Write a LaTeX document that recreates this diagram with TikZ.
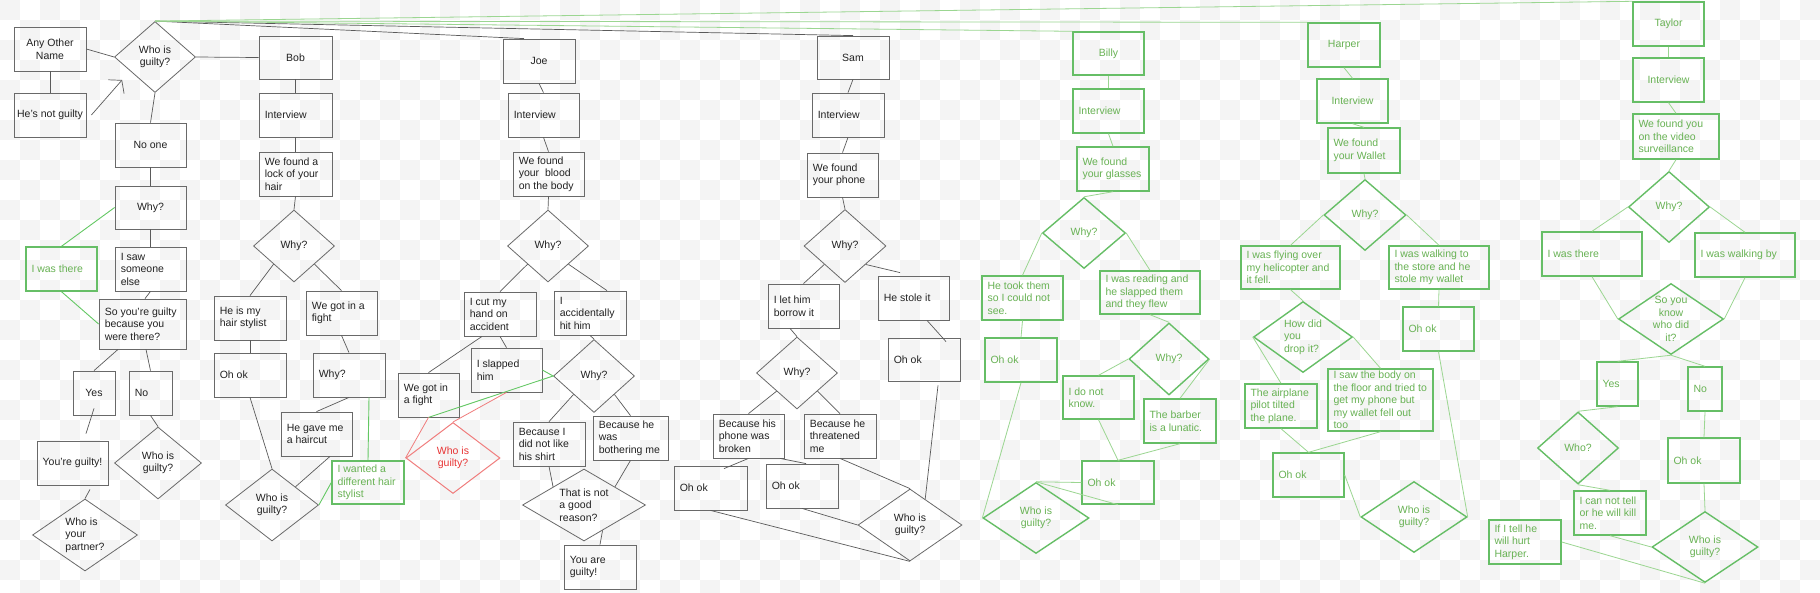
\documentclass[tikz,border=0pt]{standalone}
\usepackage{fontspec}
\setmainfont{Liberation Sans}
\usetikzlibrary{shapes.geometric,arrows.meta,calc}
\definecolor{chk}{RGB}{244,244,244}
\definecolor{gb}{RGB}{105,105,105}
\definecolor{gl}{RGB}{90,90,90}
\definecolor{tx}{RGB}{34,34,34}
\definecolor{grb}{RGB}{102,190,102}
\definecolor{grt}{RGB}{104,178,84}
\definecolor{grl}{RGB}{155,214,145}
\definecolor{grlb}{RGB}{100,200,100}
\definecolor{rb}{RGB}{240,125,125}
\definecolor{rt}{RGB}{232,52,52}
\tikzset{
 gbox/.style={draw=gb, line width=0.8pt, rectangle, inner sep=0pt},
 grbox/.style={draw=grb, line width=1.4pt, rectangle, inner sep=0pt},
 gdia/.style={draw=gb, line width=0.8pt, diamond, inner sep=0pt},
 grdia/.style={draw=grb, line width=1.4pt, diamond, inner sep=0pt},
 rdia/.style={draw=rb, line width=1pt, diamond, inner sep=0pt},
 gtxt/.style={text=tx, inner sep=0pt, font=\fontsize{10.5}{12.5}\selectfont},
 grtxt/.style={gtxt, text=grt},
 rtxt/.style={gtxt, text=rt},
 gline/.style={draw=gl, line width=0.7pt},
 grline/.style={draw=grl, line width=0.8pt},
 grlineb/.style={draw=grlb, line width=0.9pt},
 rline/.style={draw=rb, line width=0.8pt},
}
% left-aligned text box
\newcommand\lbx[7][g]{%
  \node[#1box, minimum width={(#5-#3)*1pt}, minimum height={(#6-#4)*1pt}] (#2) at ({(#3+#5)/2},{(#4+#6)/2}) {};
  \node[#1txt, anchor=west, align=left] (#2t) at ([xshift=6pt]#2.west) {#7};}
% centred text box
\newcommand\cbx[7][g]{%
  \node[#1box, minimum width={(#5-#3)*1pt}, minimum height={(#6-#4)*1pt}] (#2) at ({(#3+#5)/2},{(#4+#6)/2}) {};
  \node[#1txt, align=center] (#2t) at (#2.center) {#7};}
% diamond
\newcommand\dia[8][g]{%
  \node[#1dia, minimum width={#5*1pt}, minimum height={#6*1pt}] (#2) at (#3,#4) {};
  \node[#1txt, align=#7] (#2t) at (#2.center) {#8};}
\begin{document}
\begin{tikzpicture}[x=1pt,y=-1pt]
\useasboundingbox (0,0) rectangle (1820,592);
\fill[white] (0,0) rectangle (1820,592);
\foreach \j in {0,...,29}{
  \pgfmathtruncatemacro\off{mod(\j,2)*20}
  \foreach \i in {0,40,...,1800}{
    \fill[chk] (\i+\off,\j*20) rectangle ++(20,20);
  }}

% ---------- left
\cbx{AnyOther}{14}{27}{86}{71}{Any Other\\Name}
\cbx{HesNot}{14}{93}{86}{137}{He’s not guilty}
\dia{TopD}{155}{57}{81}{71}{center}{Who is\\guilty?}
\cbx{NoOne}{115}{123}{186}{167}{No one}
\cbx{WhyA}{115}{186}{186}{229}{Why?}
\lbx[gr]{ThereA}{26}{247}{97}{291}{I was there}
\lbx{SawA}{115}{247}{186}{291}{I saw\\someone\\else}
\lbx{SoYou}{99}{299}{186}{349}{So you’re guilty\\because you\\were there?}
\cbx{YesA}{73}{371}{115}{415}{Yes}
\lbx{NoA}{129}{371}{172}{415}{No}
\cbx{GuiltyA}{37}{441}{108}{485}{You’re guilty!}
\dia{WhoNoA}{158}{463}{87}{72}{center}{Who is\\guilty?}
\dia{PartnerA}{85}{535}{105}{72}{left}{Who is\\your\\partner?}

% ---------- Bob
\cbx{Bob}{259}{36}{332}{79}{Bob}
\lbx{BobInt}{259}{93}{332}{137}{Interview}
\lbx{BobLock}{259}{152}{332}{196}{We found a\\lock of your\\hair}
\dia{BobWhy}{294}{246}{81}{72}{center}{Why?}
\lbx{BobStylist}{214}{296}{286}{340}{He is my\\hair stylist}
\lbx{BobOk}{214}{353}{286}{397}{Oh ok}
\lbx{BobFight}{306}{291}{377}{335}{We got in a\\fight}
\lbx{BobWhy2}{313}{353}{385}{397}{Why?}
\lbx{BobGave}{281}{412}{352}{456}{He gave me\\a haircut}
\lbx[gr]{BobWanted}{332}{461}{404}{504}{I wanted a\\different hair\\stylist}
\dia{BobWho}{272}{505}{93}{72}{center}{Who is\\guilty?}

% ---------- Joe
\cbx{Joe}{503}{39}{575}{83}{Joe}
\lbx{JoeInt}{508}{93}{579}{137}{Interview}
\lbx{JoeBlood}{513}{152}{584}{196}{We found\\your\ \ blood\\on the body}
\dia{JoeWhy}{548}{246}{81}{72}{center}{Why?}
\lbx{JoeCut}{464}{292}{536}{336}{I cut my\\hand on\\accident}
\lbx{JoeAcc}{554}{291}{626}{335}{I\\accidentally\\hit him}
\lbx{JoeSlap}{471}{348}{542}{392}{I slapped\\him}
\lbx{JoeFight}{398}{373}{459}{417}{We got in\\a fight}
\dia{JoeWhy2}{594}{376}{81}{73}{center}{Why?}
\dia[r]{JoeRed}{453}{458}{94}{71}{center}{Who is\\guilty?}
\lbx{JoeShirt}{513}{422}{585}{466}{Because I\\did not like\\his shirt}
\lbx{JoeBother}{593}{416}{668}{460}{Because he\\was\\bothering me}
\dia{JoeNot}{584}{505}{123}{72}{left}{That is not\\a good\\reason?}
\lbx{JoeGuilty}{564}{545}{636}{589}{You are\\guilty!}

% ---------- Sam
\cbx{Sam}{817}{36}{889}{79}{Sam}
\lbx{SamInt}{812}{93}{884}{137}{Interview}
\lbx{SamPhone}{807}{153}{878}{197}{We found\\your phone}
\dia{SamWhy}{845}{246}{82}{73}{center}{Why?}
\lbx{SamLet}{768}{284}{839}{328}{I let him\\borrow it}
\lbx{SamStole}{878}{276}{949}{320}{He stole it}
\lbx{SamOk}{888}{338}{960}{381}{Oh ok}
\dia{SamWhy2}{797}{373}{81}{72}{center}{Why?}
\lbx{SamBroken}{713}{414}{784}{458}{Because his\\phone was\\broken}
\lbx{SamThreat}{804}{414}{876}{458}{Because he\\threatened\\me}
\lbx{SamOkA}{674}{466}{747}{510}{Oh ok}
\lbx{SamOkB}{766}{464}{838}{508}{Oh ok}
\dia{SamWho}{910}{525}{104}{72}{center}{Who is\\guilty?}

% ---------- Billy
\cbx[gr]{Billy}{1073}{32}{1144}{75}{Billy}
\lbx[gr]{BillyInt}{1073}{89}{1144}{133}{Interview}
\lbx[gr]{BillyGlass}{1077}{147}{1149}{191}{We found\\your glasses}
\dia[gr]{BillyWhy}{1084}{233}{83}{71}{center}{Why?}
\lbx[gr]{BillyTook}{982}{276}{1063}{320}{He took them\\so I could not\\see.}
\lbx[gr]{BillyRead}{1100}{271}{1200}{314}{I was reading and\\he slapped them\\and they flew}
\lbx[gr]{BillyOk}{985}{338}{1057}{382}{Oh ok}
\dia[gr]{BillyWhy2}{1169}{359}{80}{72}{center}{Why?}
\lbx[gr]{BillyKnow}{1063}{376}{1134}{419}{I do not\\know.}
\lbx[gr]{BillyBarber}{1144}{399}{1216}{443}{The barber\\is a lunatic.}
\lbx[gr]{BillyOk2}{1082}{461}{1154}{504}{Oh ok}
\dia[gr]{BillyWho}{1036}{518}{106}{71}{center}{Who is\\guilty?}

% ---------- Harper
\cbx[gr]{Harper}{1308}{23}{1380}{67}{Harper}
\cbx[gr]{HarpInt}{1317}{79}{1388}{123}{Interview}
\lbx[gr]{HarpWallet}{1328}{128}{1400}{173}{We found\\your Wallet}
\dia[gr]{HarpWhy}{1365}{215}{82}{71}{center}{Why?}
\lbx[gr]{HarpFly}{1241}{246}{1340}{289}{I was flying over\\my helicopter and\\it fell.}
\lbx[gr]{HarpWalk}{1389}{246}{1489}{289}{I was walking to\\the store and he\\stole my wallet}
\dia[gr]{HarpHow}{1303}{337}{99}{71}{left}{How did\\you\\drop it?}
\lbx[gr]{HarpOkR}{1403}{307}{1474}{351}{Oh ok}
\lbx[gr]{HarpPlane}{1245}{384}{1317}{428}{The airplane\\pilot tilted\\the plane.}
\lbx[gr]{HarpBody}{1328}{369}{1433}{431}{I saw the body on\\the floor and tried to\\get my phone but\\my wallet fell out\\too}
\lbx[gr]{HarpOkL}{1273}{453}{1344}{497}{Oh ok}
\dia[gr]{HarpWho}{1414}{517}{106}{71}{center}{Who is\\guilty?}

% ---------- Taylor
\cbx[gr]{Taylor}{1633}{2}{1704}{46}{Taylor}
\cbx[gr]{TayInt}{1633}{58}{1704}{102}{Interview}
\lbx[gr]{TaySurv}{1633}{114}{1719}{159}{We found you\\on the video\\surveillance}
\dia[gr]{TayWhy}{1669}{207}{81}{71}{center}{Why?}
\lbx[gr]{TayThere}{1542}{232}{1642}{276}{I was there}
\lbx[gr]{TayWalk}{1695}{233}{1795}{277}{I was walking by}
\dia[gr]{TayKnow}{1671}{319}{105}{71}{center}{So you\\know\\who did\\it?}
\lbx[gr]{TayYes}{1597}{362}{1638}{406}{Yes}
\lbx[gr]{TayNo}{1688}{367}{1722}{411}{No}
\dia[gr]{TayWhoQ}{1578}{448}{81}{72}{center}{Who?}
\lbx[gr]{TayOk}{1668}{438}{1740}{483}{Oh ok}
\lbx[gr]{TayCant}{1574}{491}{1646}{535}{I can not tell\\or he will kill\\me.}
\lbx[gr]{TayIf}{1489}{520}{1561}{564}{If I tell he\\will hurt\\Harper.}
\dia[gr]{TayWho}{1705}{547}{106}{71}{center}{Who is\\guilty?}

% ================= connectors
% left
\draw[gline] (AnyOther.east) -- (TopD.west);
\draw[gline] (AnyOther.south) -- (HesNot.north);
\coordinate (arrTip) at ([shift={(8,23)}]TopD.west);
\draw[gline, -{Straight Barb[length=8.5pt,width=21pt]}] ([xshift=5pt]HesNot.east) -- (arrTip);
\draw[gline] (TopD.east) -- (Bob.west);
\draw[gline] (TopD.south) -- (NoOne.north);
\draw[gline] (NoOne.south) -- (WhyA.north);
\draw[gline] (WhyA.south) -- (SawA.north);
\draw[grlineb] (WhyA.west) -- (ThereA.north);
\draw[grlineb] (ThereA.south) -- (SoYou.west);
\draw[gline] (SawA.south) -- ([xshift=2.5pt]SoYou.north);
\draw[gline] ([xshift=-24.5pt]SoYou.south) -- (YesA.north);
\draw[gline] ([xshift=3.5pt]SoYou.south) -- (NoA.north);
\draw[gline] ([shift={(0,-7)}]YesA.south) -- ([shift={(13.5,-7)}]GuiltyA.north);
\draw[gline] (NoA.south) -- (WhoNoA.north);
\draw[gline] ([shift={(17.5,4)}]GuiltyA.south) -- (PartnerA.north);
% top fan
\draw[gline] (TopD.north) -- ([xshift=-15pt]Joe.north);
\draw[gline] (TopD.north) -- (Sam.north);
\draw[grline] (TopD.north) -- (Billy.north west);
\draw[grline] (TopD.north) -- (Harper.north west);
\draw[grline] (TopD.north) -- (Taylor.north west);
% Bob
\draw[gline] (Bob.south) -- (BobInt.north);
\draw[gline] (BobInt.south) -- (BobLock.north);
\draw[gline] (BobLock.south) -- (BobWhy.north);
\draw[gline] (BobWhy.south west) -- (BobStylist.north);
\draw[gline] (BobWhy.south east) -- (BobFight.north);
\draw[gline] (BobStylist.south) -- (BobOk.north);
\draw[gline] (BobOk.south) -- (BobWho.north);
\draw[gline] (BobFight.south) -- (BobWhy2.north);
\draw[gline] (BobWhy2.south) -- (BobGave.north);
\draw[gline] ([xshift=13.5pt]BobGave.south) -- (BobWho.north east);
\draw[grlineb] ([xshift=20pt]BobWhy2.south) -- (BobWanted.north);
\draw[grlineb] (BobWanted.west) -- (BobWho.east);
% Joe
\draw[gline] (Joe.south) -- (JoeInt.north);
\draw[gline] (JoeInt.south) -- (JoeBlood.north);
\draw[gline] (JoeBlood.south) -- (JoeWhy.north);
\draw[gline] (JoeWhy.south west) -- (JoeCut.north);
\draw[gline] (JoeWhy.south east) -- ([xshift=17pt]JoeAcc.north);
\draw[gline] (JoeAcc.south) -- (JoeWhy2.north);
\draw[gline] ([xshift=-18pt]JoeCut.south) -- (JoeFight.north);
\draw[gline] (JoeCut.south) -- (JoeSlap.north);
\draw[grlineb] (JoeSlap.east) -- (JoeWhy2.west) -- (JoeFight.south);
\draw[rline] (JoeRed.west) -- (JoeFight.south);
\draw[rline] (JoeRed.north) -- (JoeSlap.south);
\draw[gline] (JoeWhy2.south west) -- (JoeShirt.north);
\draw[gline] (JoeWhy2.south east) -- (JoeBother.north);
\draw[gline] (JoeShirt.south) -- (JoeNot.north west);
\draw[gline] (JoeBother.south) -- (JoeNot.north east);
\draw[gline] ($(JoeNot.south)!0.3!(JoeNot.east)$) -- (JoeGuilty.north);
% Sam
\draw[gline] (Sam.south) -- (SamInt.north);
\draw[gline] (SamInt.south) -- (SamPhone.north);
\draw[gline] (SamPhone.south) -- (SamWhy.north);
\draw[gline] (SamWhy.south west) -- (SamLet.north);
\draw[gline] (SamWhy.south east) -- ([shift={(-13.5,-3)}]SamStole.north);
\draw[gline] ([xshift=13.5pt]SamStole.south) -- ([shift={(22,4)}]SamOk.north);
\draw[gline] ([shift={(14,4)}]SamOk.south) -- ($(SamWho.north)!0.29!(SamWho.east)$);
\draw[gline] ([xshift=-13.5pt]SamLet.south) -- (SamWhy2.north);
\draw[gline] (SamWhy2.south west) -- (SamBroken.north);
\draw[gline] (SamWhy2.south east) -- (SamThreat.north);
\draw[gline] (SamBroken.south) -- ([shift={(13.5,3)}]SamOkA.north);
\draw[gline] ([xshift=31.5pt]SamBroken.south) -- ([xshift=4pt]SamOkB.north);
\draw[gline] (SamThreat.south) -- (SamWho.north);
\draw[gline] (SamOkB.south) -- (SamWho.west);
\draw[gline] (SamOkA.south) -- (SamWho.south);
% Billy
\draw[grline] (Billy.south) -- (BillyInt.north);
\draw[grline] (BillyInt.south) -- (BillyGlass.north);
\draw[grline] (BillyGlass.south) -- (BillyWhy.north);
\draw[grline] (BillyWhy.west) -- (BillyTook.north);
\draw[grline] (BillyWhy.east) -- (BillyRead.north);
\draw[grline] (BillyTook.south) -- (BillyOk.north);
\draw[grline] (BillyRead.south) -- (BillyWhy2.north);
\draw[grline] (BillyWhy2.west) -- (BillyKnow.north);
\draw[grline] (BillyWhy2.east) -- (BillyBarber.north);
\draw[grline] (BillyKnow.south) -- (BillyOk2.north);
\draw[grline] (BillyBarber.south) -- (BillyOk2.north);
\draw[grline] (BillyOk.south) -- (BillyWho.west);
\draw[grline] (BillyWho.north) -- (BillyOk2.west);
\draw[grline] (BillyWho.north) -- (BillyOk2.south);
% Harper
\draw[grline] (Harper.south) -- (HarpInt.north);
\draw[grline] (HarpInt.south) -- (HarpWallet.north);
\draw[grline] (HarpWallet.south) -- (HarpWhy.north);
\draw[grline] (HarpWhy.west) -- (HarpFly.north);
\draw[grline] (HarpWhy.east) -- (HarpWalk.north);
\draw[grline] (HarpFly.south) -- (HarpHow.north);
\draw[grline] (HarpWalk.south) -- (HarpOkR.north);
\draw[grline] (HarpHow.west) -- (HarpPlane.north);
\draw[grline] (HarpHow.east) -- (HarpBody.north);
\draw[grline] (HarpPlane.south) -- (HarpOkL.north);
\draw[grline] (HarpBody.south) -- (HarpOkL.north);
\draw[grline] (HarpOkL.east) -- (HarpWho.west);
\draw[grline] (HarpOkR.south) -- (HarpWho.east);
% Taylor
\draw[grline] (Taylor.south) -- (TayInt.north);
\draw[grline] (TayInt.south) -- (TaySurv.north);
\draw[grline] (TaySurv.south) -- (TayWhy.north);
\draw[grline] (TayWhy.west) -- (TayThere.north);
\draw[grline] (TayWhy.east) -- (TayWalk.north);
\draw[grline] (TayThere.south) -- (TayKnow.west);
\draw[grline] (TayWalk.south) -- (TayKnow.east);
\draw[grline] (TayKnow.south) -- (TayYes.north);
\draw[grline] (TayKnow.south) -- (TayNo.north);
\draw[grline] (TayYes.south) -- (TayWhoQ.north);
\draw[grline] (TayNo.south) -- (TayOk.north);
\draw[grline] (TayWhoQ.south) -- (TayCant.north);
\draw[grline] (TayOk.south) -- (TayWho.north);
\draw[grline] (TayCant.south) -- (TayWho.west);
\draw[grline] (TayIf.east) -- (TayWho.south);
\end{tikzpicture}
\end{document}
